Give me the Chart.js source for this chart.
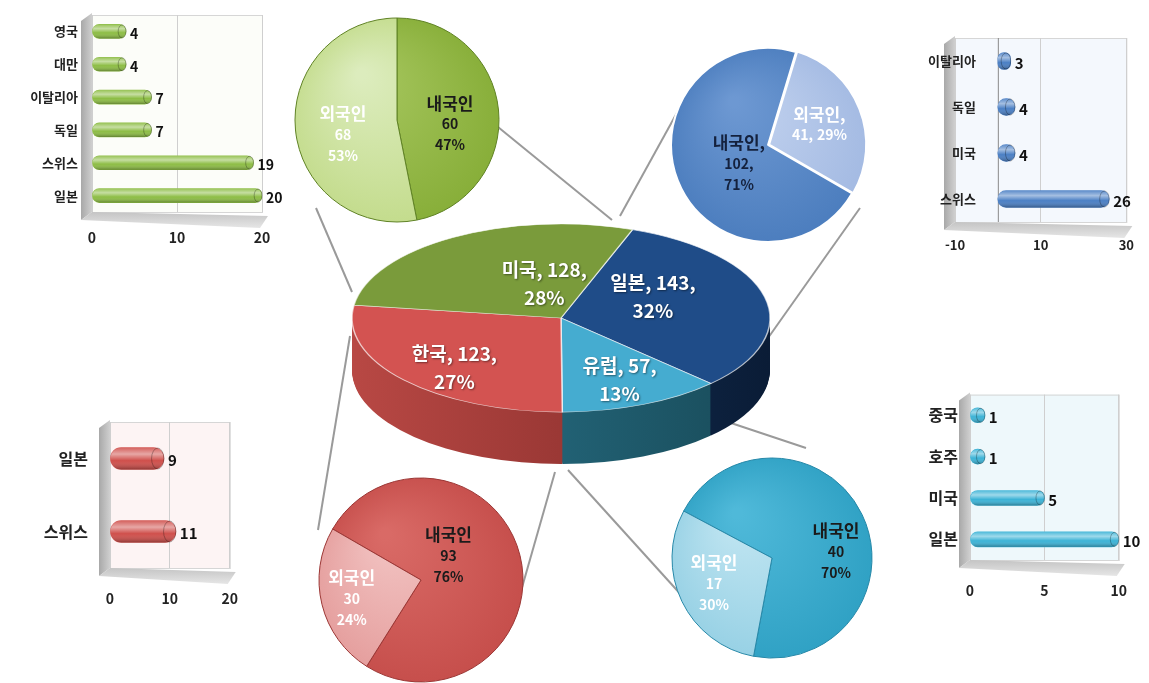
<!DOCTYPE html>
<html lang="ko">
<head>
<meta charset="UTF-8">
<title>지역별 방문객</title>
<script src="https://cdn.jsdelivr.net/npm/chart.js"></script>
<style>
  body { margin: 0; background: #fff; }
  #stage { position: relative; width: 1149px; height: 683px; overflow: hidden; }
  .box { position: absolute; }
  #links { position: absolute; left: 0; top: 0; }
</style>
</head>
<body>
<div id="stage">
  <canvas id="links" width="1149" height="683"></canvas>

  <div class="box" style="left:0;top:0;width:300px;height:262px"><canvas id="barUs"></canvas></div>
  <div class="box" style="left:880px;top:20px;width:269px;height:252px"><canvas id="barJapan"></canvas></div>
  <div class="box" style="left:0;top:400px;width:260px;height:222px"><canvas id="barKorea"></canvas></div>
  <div class="box" style="left:890px;top:385px;width:259px;height:225px"><canvas id="barEurope"></canvas></div>

  <div class="box" style="left:270px;top:-7px;width:254px;height:254px"><canvas id="pieUs"></canvas></div>
  <div class="box" style="left:643px;top:20px;width:250px;height:250px"><canvas id="pieJapan"></canvas></div>
  <div class="box" style="left:296px;top:455px;width:250px;height:250px"><canvas id="pieKorea"></canvas></div>
  <div class="box" style="left:647px;top:433px;width:250px;height:250px"><canvas id="pieEurope"></canvas></div>

  <div class="box" style="left:331px;top:158px;width:460px;height:320px"><canvas id="pieMain"></canvas></div>
</div>

<script>
// 지역별 방문객 합계
const regions = ['일본', '유럽', '한국', '미국'];
const regionTotals = [143, 57, 123, 128];

// 지역별 내국인 / 외국인
const visitorTypes = ['내국인', '외국인'];
const usVisitors = [60, 68];
const japanVisitors = [102, 41];
const koreaVisitors = [93, 30];
const europeVisitors = [40, 17];

// 외국인 국적
const usNations = ['영국', '대만', '이탈리아', '독일', '스위스', '일본'];
const usCounts = [4, 4, 7, 7, 19, 20];
const usTicks = [0, 10, 20];

const japanNations = ['이탈리아', '독일', '미국', '스위스'];
const japanCounts = [3, 4, 4, 26];
const japanTicks = [-10, 10, 30];

const koreaNations = ['일본', '스위스'];
const koreaCounts = [9, 11];
const koreaTicks = [0, 10, 20];

const europeNations = ['중국', '호주', '미국', '일본'];
const europeCounts = [1, 1, 5, 10];
const europeTicks = [0, 5, 10];

const FONT = "'Noto Sans CJK KR', 'Noto Sans', sans-serif";
Chart.defaults.font.family = FONT;
Chart.defaults.animation = false;
Chart.defaults.plugins.legend.display = false;
Chart.defaults.plugins.tooltip.enabled = false;

// 연결선
(function drawLinks() {
    const ctx = document.getElementById('links').getContext('2d');
    const links = [[352, 292, 316, 208], [498, 127, 612, 220], [620, 216, 684, 100], [768, 338, 860, 208],
                   [728, 422, 806, 448], [568, 470, 684, 598], [555, 472, 515, 612], [350, 336, 318, 530]];
    ctx.strokeStyle = '#9a9a9a';
    ctx.lineWidth = 2;
    links.forEach(function (l) {
        ctx.beginPath();
        ctx.moveTo(l[0], l[1]);
        ctx.lineTo(l[2], l[3]);
        ctx.stroke();
    });
})();

// 파이 조각 라벨
const sliceLabels = {
    id: 'sliceLabels',
    afterDatasetsDraw(chart, args, o) {
        const ctx = chart.ctx;
        const arcs = chart.getDatasetMeta(0).data;
        const vals = chart.data.datasets[0].data;
        const total = vals.reduce((s, v) => s + v, 0);
        const r = arcs[0].outerRadius, cx = arcs[0].x, cy = arcs[0].y;
        const tilt = o.tilt || 1;
        ctx.save();
        ctx.textAlign = 'center';
        ctx.textBaseline = 'middle';
        if (o.shadow) {
            ctx.shadowColor = 'rgba(0,0,0,0.45)';
            ctx.shadowBlur = 2;
            ctx.shadowOffsetX = 1;
            ctx.shadowOffsetY = 1;
        }
        arcs.forEach(function (arc, i) {
            const lines = o.format(chart.data.labels[i], vals[i], Math.round(vals[i] / total * 100));
            const x = cx + o.at[i][0] * r;
            let y = cy + o.at[i][1] * r * tilt - (lines.length - 1) * o.lineHeight / 2;
            ctx.fillStyle = o.colors[i];
            lines.forEach(function (t, j) {
                ctx.font = `bold ${j === 0 ? o.size : o.size2}px ${FONT}`;
                ctx.fillText(t, x, y);
                y += o.lineHeight;
            });
        });
        ctx.restore();
    }
};

// 3D 파이 (눕히고 옆면 그리기)
const pie3d = {
    id: 'pie3d',
    beforeDatasetsDraw(chart, args, o) {
        const ctx = chart.ctx;
        const arcs = chart.getDatasetMeta(0).data;
        const cx = arcs[0].x, cy = arcs[0].y, r = arcs[0].outerRadius;
        ctx.save();
        ctx.translate(cx, cy);
        ctx.scale(1, o.tilt);
        ctx.translate(-cx, -cy);
        const fills = arcs.map(function (arc, i) {
            const g = ctx.createLinearGradient(cx - r, 0, cx + r, 0);
            g.addColorStop(0, o.sides[i][0]);
            g.addColorStop(1, o.sides[i][1]);
            return g;
        });
        for (let d = o.depth; d > 0; d--) {
            const oy = cy + d / o.tilt;
            arcs.forEach(function (arc, i) {
                ctx.fillStyle = fills[i];
                ctx.beginPath();
                ctx.moveTo(cx, oy);
                ctx.arc(cx, oy, r, arc.startAngle, arc.endAngle);
                ctx.closePath();
                ctx.fill();
            });
        }
    },
    afterDatasetsDraw(chart) {
        chart.ctx.restore();
    }
};

function shade(lights, bases) {
    return function (c) {
        const a = c.chart.chartArea;
        const base = bases[c.dataIndex];
        if (!a) return base;
        const cx = (a.left + a.right) / 2, cy = (a.top + a.bottom) / 2;
        const r = c.chart.options.radius;
        const g = c.chart.ctx.createRadialGradient(cx - r * 0.35, cy - r * 0.45, r * 0.05, cx, cy, r * 1.1);
        g.addColorStop(0, lights[c.dataIndex]);
        g.addColorStop(1, base);
        return g;
    };
}

const plainFormat = (name, v, pct) => [name, String(v), pct + '%'];

function makePie(id, values, o) {
    return new Chart(document.getElementById(id), {
        type: 'pie',
        data: {
            labels: visitorTypes,
            datasets: [{
                data: values,
                backgroundColor: shade(o.lights, o.bases),
                borderColor: o.border,
                borderWidth: o.borderWidth,
                offset: o.offset || 0,
                clip: false
            }]
        },
        options: {
            responsive: true,
            maintainAspectRatio: false,
            radius: o.radius,
            rotation: o.rotation,
            plugins: {
                sliceLabels: {
                    at: o.at, colors: o.textColors || ['#1b1b1b', '#ffffff'], size: 17, size2: 14,
                    lineHeight: 21, format: o.format || plainFormat
                }
            }
        },
        plugins: [sliceLabels]
    });
}

makePie('pieUs', usVisitors, {
    radius: 102, rotation: 0,
    bases: ['#86ad37', '#c2db8a'], lights: ['#a6c65e', '#dcecbd'],
    border: '#5f8224', borderWidth: 1,
    at: [[0.52, 0.04], [-0.53, 0.14]]
});

makePie('pieJapan', japanVisitors, {
    radius: 97, rotation: 120,
    bases: ['#4a7cbd', '#a2b9e2'], lights: ['#6d98d2', '#c3d3ef'],
    border: '#ffffff', borderWidth: 2, offset: [0, 5],
    textColors: ['#14213d', '#ffffff'],
    at: [[-0.30, 0.19], [0.53, -0.21]],
    format: (name, v, pct) => v > 100 ? [name + ',', v + ',', pct + '%'] : [name + ',', v + ', ' + pct + '%']
});

makePie('pieKorea', koreaVisitors, {
    radius: 102, rotation: -60,
    bases: ['#c54d4a', '#e49c9b'], lights: ['#d96a66', '#f2c3c2'],
    border: '#9b3634', borderWidth: 1,
    at: [[0.27, -0.24], [-0.68, 0.18]]
});

makePie('pieEurope', europeVisitors, {
    radius: 100, rotation: -62,
    bases: ['#2ea0c3', '#95d0e4'], lights: ['#4fb9d9', '#c2e6f2'],
    border: '#2688a8', borderWidth: 1,
    at: [[0.64, -0.06], [-0.58, 0.26]]
});

// 가운데 3D 파이
new Chart(document.getElementById('pieMain'), {
    type: 'pie',
    data: {
        labels: regions,
        datasets: [{
            data: regionTotals,
            backgroundColor: ['#1f4c88', '#45acd0', '#d35351', '#7a9b3b'],
            borderColor: 'rgba(255,255,255,0.7)',
            borderWidth: 1.5,
            clip: false
        }]
    },
    options: {
        responsive: true,
        maintainAspectRatio: false,
        radius: 209,
        rotation: 20,
        plugins: {
            pie3d: {
                tilt: 0.45, depth: 52,
                sides: [['#1a3d6b', '#0a1c36'], ['#2b7890', '#184a58'], ['#b84844', '#7d2826'], ['#5c7a28', '#4a6320']]
            },
            sliceLabels: {
                tilt: 0.45, shadow: true,
                at: [[0.44, -0.23], [0.28, 0.66], [-0.51, 0.53], [-0.08, -0.36]],
                colors: ['#fff', '#fff', '#fff', '#fff'], size: 19, size2: 19, lineHeight: 28,
                format: (name, v, pct) => [name + ', ' + v + ',', pct + '%']
            }
        }
    },
    plugins: [pie3d, sliceLabels]
});

// 막대 차트 장식 (벽, 바닥, 원통, 값 라벨)
const barDeco = {
    id: 'barDeco',
    beforeDraw(chart, args, o) {
        const ctx = chart.ctx, a = chart.chartArea, w = 11;
        ctx.save();
        ctx.fillStyle = o.plane;
        ctx.fillRect(a.left, a.top, a.right - a.left, a.bottom - a.top);
        ctx.strokeStyle = '#d6d6d6';
        ctx.lineWidth = 1;
        ctx.strokeRect(a.left + 0.5, a.top + 0.5, a.right - a.left, a.bottom - a.top);
        let g = ctx.createLinearGradient(a.left - w, 0, a.left, 0);
        g.addColorStop(0, '#a8a8a8');
        g.addColorStop(1, '#cfcfcf');
        ctx.fillStyle = g;
        ctx.beginPath();
        ctx.moveTo(a.left - w, a.top + 6);
        ctx.lineTo(a.left, a.top - 2);
        ctx.lineTo(a.left, a.bottom);
        ctx.lineTo(a.left - w, a.bottom + 8);
        ctx.closePath();
        ctx.fill();
        g = ctx.createLinearGradient(0, a.bottom, 0, a.bottom + 16);
        g.addColorStop(0, '#c4c4c4');
        g.addColorStop(1, '#e6e6e6');
        ctx.fillStyle = g;
        ctx.beginPath();
        ctx.moveTo(a.left - w, a.bottom + 8);
        ctx.lineTo(a.left, a.bottom);
        ctx.lineTo(a.right + 6, a.bottom + 4);
        ctx.lineTo(a.right - 2, a.bottom + 16);
        ctx.closePath();
        ctx.fill();
        if (o.zeroLine) {
            const x0 = chart.scales.x.getPixelForValue(0);
            ctx.strokeStyle = '#8a8a8a';
            ctx.beginPath();
            ctx.moveTo(x0 + 0.5, a.top);
            ctx.lineTo(x0 + 0.5, a.bottom);
            ctx.stroke();
        }
        ctx.restore();
    },
    afterDatasetsDraw(chart, args, o) {
        const ctx = chart.ctx;
        const meta = chart.getDatasetMeta(0);
        const vals = chart.data.datasets[0].data;
        ctx.save();
        meta.data.forEach(function (bar, i) {
            const p = bar.getProps(['x', 'y', 'base', 'height'], true);
            const h = p.height, top = p.y - h / 2, len = p.x - p.base;
            const g = ctx.createLinearGradient(0, top, 0, top + h);
            g.addColorStop(0, 'rgba(255,255,255,0.10)');
            g.addColorStop(0.3, 'rgba(255,255,255,0.50)');
            g.addColorStop(0.6, 'rgba(255,255,255,0)');
            g.addColorStop(1, 'rgba(0,0,0,0.30)');
            ctx.fillStyle = g;
            ctx.beginPath();
            ctx.roundRect(p.base, top, len, h, h / 2);
            ctx.fill();
            // 끝 단면
            const rx = Math.min(h * 0.28, len / 2);
            ctx.strokeStyle = 'rgba(0,0,0,0.28)';
            ctx.lineWidth = 1;
            ctx.beginPath();
            ctx.ellipse(p.x - rx, p.y, rx, h / 2 - 0.5, 0, 0, Math.PI * 2);
            ctx.stroke();
            ctx.fillStyle = '#111';
            ctx.font = `bold ${o.valueSize}px ${FONT}`;
            ctx.textAlign = 'left';
            ctx.textBaseline = 'middle';
            ctx.fillText(vals[i], p.x + 4, p.y + 2);
        });
        ctx.restore();
    }
};

function makeBars(id, labels, values, ticks, o) {
    const yTicks = { padding: 0, color: '#222', font: { size: o.labelSize, weight: 'bold' } };
    if (o.mirror) {
        // 라벨이 0 축 옆(그림 영역 안쪽)에 붙는 경우
        yTicks.mirror = true;
        yTicks.crossAlign = 'far';
        yTicks.padding = o.labelPad;
    }
    return new Chart(document.getElementById(id), {
        type: 'bar',
        data: {
            labels: labels,
            datasets: [{
                data: values,
                backgroundColor: o.color,
                borderRadius: o.thick / 2,
                borderSkipped: false,
                barThickness: o.thick
            }]
        },
        options: {
            indexAxis: 'y',
            responsive: true,
            maintainAspectRatio: false,
            layout: { padding: o.pad },
            scales: {
                x: {
                    min: ticks[0],
                    max: ticks[ticks.length - 1],
                    ticks: { stepSize: ticks[1] - ticks[0], padding: o.tickPad, color: '#222', font: { size: o.tickSize, weight: 'bold' } },
                    grid: { color: '#cfcfcf', drawTicks: false },
                    border: { display: false },
                    afterFit: function (s) { s.height = o.xh; }
                },
                y: {
                    grid: { display: false, drawTicks: !o.mirror, tickLength: o.labelPad },
                    border: { display: false },
                    ticks: yTicks,
                    afterFit: function (s) { s.width = o.yw; }
                }
            },
            plugins: {
                barDeco: { plane: o.plane, valueSize: o.valueSize, zeroLine: o.zeroLine }
            }
        },
        plugins: [barDeco]
    });
}

makeBars('barUs', usNations, usCounts, usTicks, {
    color: '#8dbd45', thick: 14, plane: '#fcfdf9',
    pad: { left: 0, right: 38, top: 15, bottom: 0 }, yw: 92, xh: 50,
    tickPad: 17, labelPad: 14, tickSize: 14, labelSize: 13, valueSize: 14
});

makeBars('barJapan', japanNations, japanCounts, japanTicks, {
    color: '#4a7fc4', thick: 17, plane: '#f4f8fd', zeroLine: true, mirror: true,
    pad: { left: 0, right: 14, top: 18, bottom: 0 }, yw: 75, xh: 50,
    tickPad: 15, labelPad: -27, tickSize: 13, labelSize: 13, valueSize: 15
});

makeBars('barKorea', koreaNations, koreaCounts, koreaTicks, {
    color: '#cf4f4b', thick: 22, plane: '#fdf4f4',
    pad: { left: 0, right: 22, top: 22, bottom: 0 }, yw: 110, xh: 54,
    tickPad: 22, labelPad: 22, tickSize: 14, labelSize: 16, valueSize: 15
});

makeBars('barEurope', europeNations, europeCounts, europeTicks, {
    color: '#3cb3d6', thick: 15, plane: '#eef8fb',
    pad: { left: 0, right: 29, top: 8, bottom: 0 }, yw: 80, xh: 50,
    tickPad: 22, labelPad: 12, tickSize: 14, labelSize: 16, valueSize: 15
});
</script>
</body>
</html>
